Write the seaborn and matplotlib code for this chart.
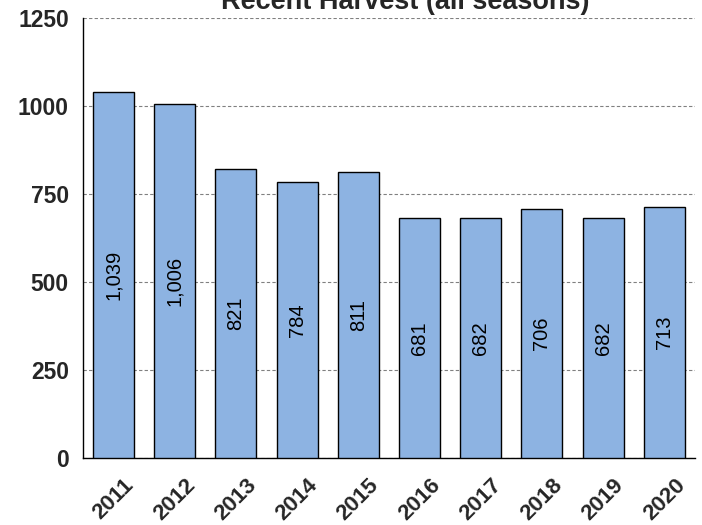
import numpy as np
import pandas as pd
import matplotlib
matplotlib.use('Agg')
import matplotlib.pyplot as plt
import seaborn as sns

# data
years = ['2011', '2012', '2013', '2014', '2015', '2016', '2017', '2018', '2019', '2020']
harvest = [1039, 1006, 821, 784, 811, 681, 682, 706, 682, 713]

df = pd.DataFrame({'Year': years, 'Harvest': harvest})

sns.set_style('white')
plt.rcParams['font.family'] = ['Liberation Sans', 'DejaVu Sans']

fig = plt.figure(figsize=(7.02, 5.25), dpi=100)
ax = fig.add_axes([0.118, 0.128, 0.872, 0.838])

sns.barplot(data=df, x='Year', y='Harvest', color='#8DB3E2', saturation=1,
            edgecolor='black', linewidth=1, width=0.67, ax=ax, zorder=3)

# value labels, rotated, centred in each bar
for i, v in enumerate(harvest):
    ax.text(i, v / 2, f'{v:,}', rotation=90, ha='center', va='center',
            fontsize=14.5, color='black', zorder=4)

ax.set_ylim(0, 1250)
ax.set_xlim(-0.5, len(years) - 0.5)
ax.set_yticks([0, 250, 500, 750, 1000, 1250])
ax.yaxis.grid(True, linestyle=(0, (3, 2)), color='#808080', linewidth=0.8, zorder=0)
ax.xaxis.grid(False)

# x ticks sit between the bars
ax.set_xticks(np.arange(len(years)))
ax.set_xticklabels(years, rotation=45, ha='center', va='top',
                   fontsize=16, fontweight='bold')
ax.set_xticks(np.arange(len(years) + 1) - 0.5, minor=True)
ax.tick_params(axis='x', which='major', length=0, pad=12)
ax.tick_params(axis='x', which='minor', length=6, width=1, direction='out', color='black')
ax.tick_params(axis='y', length=6, width=1, direction='out', color='black',
               labelsize=16.5, pad=4)
for lab in ax.get_yticklabels():
    lab.set_fontweight('bold')

ax.set_xlabel('')
ax.set_ylabel('')
for s in ['top', 'right']:
    ax.spines[s].set_visible(False)
for s in ['left', 'bottom']:
    ax.spines[s].set_color('black')
    ax.spines[s].set_linewidth(1)

fig.text(0.577, 1 - 9 / 525, 'Recent Harvest (all seasons)', ha='center', va='baseline',
         fontsize=19.5, fontweight='bold')

fig.savefig('out.png', dpi=100)
